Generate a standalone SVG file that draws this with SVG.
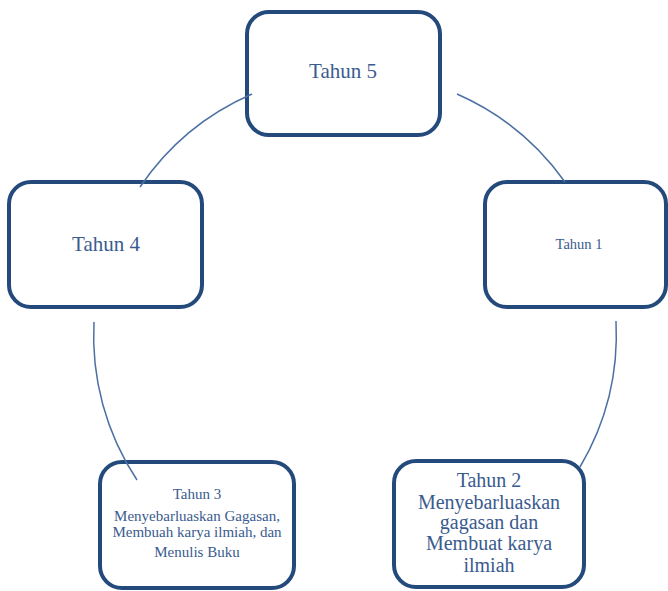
<svg xmlns="http://www.w3.org/2000/svg" width="668" height="591" viewBox="0 0 668 591">
<style>
.box{fill:#fff;stroke:#244a7c;stroke-width:4}
.t{font-family:"Liberation Serif","DejaVu Serif","Noto Serif","Times New Roman",serif;fill:#3a5b8e;text-anchor:middle}
.arc{fill:none;stroke:#4c70a3;stroke-width:1.5}
</style>
<rect width="668" height="591" fill="#fff"/>
<g id="tahun5">
<rect class="box" x="247" y="12" width="193" height="123" rx="22"/>
<text class="t" x="343" y="78" font-size="21">Tahun 5</text>
</g>
<g id="tahun1">
<rect class="box" x="485" y="182" width="181" height="125" rx="22"/>
<text class="t" x="579" y="249" font-size="14.5">Tahun 1</text>
</g>
<g id="tahun4">
<rect class="box" x="9" y="182" width="193" height="125" rx="22"/>
<text class="t" x="106" y="251" font-size="21">Tahun 4</text>
</g>
<g id="tahun3">
<rect class="box" x="100" y="462" width="194" height="126" rx="22"/>
<text class="t" x="197" y="499" font-size="15">Tahun 3</text>
<text class="t" x="197" y="521" font-size="15">Menyebarluaskan Gagasan,</text>
<text class="t" x="197" y="537" font-size="15">Membuah karya ilmiah, dan</text>
<text class="t" x="197" y="557" font-size="15">Menulis Buku</text>
</g>
<g id="tahun2">
<rect class="box" x="394" y="461" width="190" height="126" rx="22"/>
<text class="t" x="489" y="487" font-size="20">Tahun 2</text>
<text class="t" x="489" y="509" font-size="20">Menyebarluaskan</text>
<text class="t" x="489" y="529" font-size="20">gagasan dan</text>
<text class="t" x="489" y="550" font-size="20">Membuat karya</text>
<text class="t" x="489" y="572" font-size="20">ilmiah</text>
</g>
<g id="connectors">
<path class="arc" d="M140,187 A261,261 0 0,1 252,94"/>
<path class="arc" d="M457,94 A261,261 0 0,1 565,182"/>
<path class="arc" d="M616,321 A261,261 0 0,1 580,467"/>
<path class="arc" d="M137,480 A261,261 0 0,1 94,322"/>
</g>
</svg>
